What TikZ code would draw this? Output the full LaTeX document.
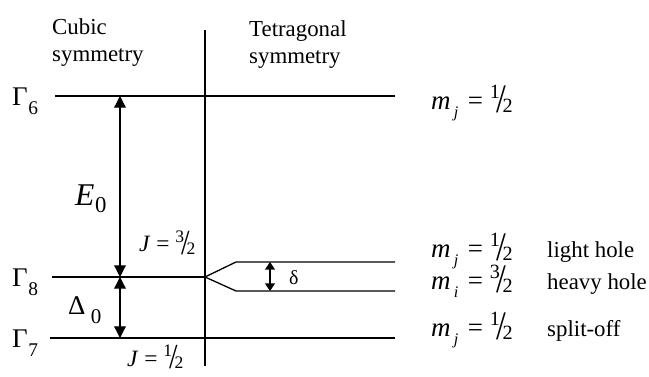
\documentclass[tikz,border=0pt]{standalone}
\usepackage{fontspec}
\setmainfont{Liberation Serif}
\usepackage{graphicx}
\usetikzlibrary{arrows.meta, positioning}

% slanted fraction and lowered index
\newcommand{\slfrac}[2]{\raisebox{0.42em}{\scalebox{0.75}{#1}}\kern-0.13em\raisebox{-0.1em}{\scalebox{1.3}[1.5]{/}}\kern-0.13em\raisebox{-0.1em}{\scalebox{0.75}{#2}}}
\newcommand{\lowsub}[3]{#1\kern0.02em\raisebox{#3}{\scalebox{0.72}{#2}}}
\newcommand{\mstate}[3]{\textit{m}\kern0.12em\raisebox{-0.28em}{\scalebox{0.6}{\textit{#1}}}\kern0.35em=\kern0.25em\slfrac{#2}{#3}}

\begin{document}
\begin{tikzpicture}[x=0.03cm, y=-0.03cm,
  lvl/.style={line width=1.1pt},
  gap/.style={{Triangle[length=10pt, width=10pt]}-{Triangle[length=10pt, width=10pt]},
              line width=1.1pt},
  small gap/.style={{Triangle[length=6.5pt, width=8.5pt]}-{Triangle[length=6.5pt, width=8.5pt]},
              line width=1.1pt},
  lbl/.style={anchor=base west, inner sep=0pt, font=\fontsize{19.5}{23}\selectfont},
  sym/.style={anchor=base west, inner sep=0pt, font=\fontsize{23}{28}\selectfont},
  state/.style={anchor=base west, inner sep=0pt, font=\fontsize{23}{28}\selectfont},
  jlbl/.style={anchor=base west, inner sep=0pt, font=\fontsize{20}{24}\selectfont},
]
  \useasboundingbox (0,0) rectangle (649,377);

  % Points
  \coordinate (vtop) at (205,30);
  \coordinate (vbot) at (205,366);
  \coordinate (g6a) at (55,96);
  \coordinate (g6b) at (395,96);
  \coordinate (g8a) at (52,277);
  \coordinate (g8m) at (205,277);
  \coordinate (lhk) at (236,262);
  \coordinate (lhb) at (395,262);
  \coordinate (hhk) at (236,291);
  \coordinate (hhb) at (395,291);
  \coordinate (g7a) at (50,338);
  \coordinate (g7b) at (395,338);
  \coordinate (e0t) at (120,96);
  \coordinate (e0b) at (120,277);
  \coordinate (d0b) at (120,338);
  \coordinate (dlt) at (270,262);
  \coordinate (dlb) at (270,291);

  % Levels
  \draw[lvl] (vtop) -- (vbot);
  \draw[lvl] (g6a) -- (g6b);
  \draw[lvl] (g8a) -- (g8m);
  \draw[lvl] (g8m) -- (lhk) -- (lhb);
  \draw[lvl] (g8m) -- (hhk) -- (hhb);
  \draw[lvl] (g7a) -- (g7b);

  % Gaps
  \draw[gap] (e0t) -- (e0b);
  \draw[gap] (e0b) -- (d0b);
  \draw[small gap] (dlt) -- (dlb);

  % Labels
  \node[lbl] (cub1) at (52,35) {Cubic};
  \node[lbl] (cub2) at (52,62) {symmetry};
  \node[lbl] (tet1) at (249,37) {Tetragonal};
  \node[lbl] (tet2) at (249,64) {symmetry};

  \node[sym] (g6) at (12,106) {\lowsub{Γ}{6}{-0.3em}};
  \node[sym] (g8) at (12,287) {\lowsub{Γ}{8}{-0.3em}};
  \node[sym] (g7) at (12,348) {\lowsub{Γ}{7}{-0.3em}};
  \node[sym, font=\fontsize{27}{32}\selectfont] (e0) at (75,206) {\lowsub{\textit{E}}{0}{-0.2em}};
  \node[sym] (d0) at (68,315) {Δ\kern0.2em\raisebox{-0.32em}{\scalebox{0.78}{0}}};

  \node[jlbl] (j32) at (139,252) {\textit{J} = \slfrac{3}{2}};
  \node[jlbl] (j12) at (127,366) {\textit{J} = \slfrac{1}{2}};
  \node[jlbl, font=\fontsize{17}{20}\selectfont] (dl) at (289,285) {δ};

  \node[state] (m6) at (431,110) {\mstate{j}{1}{2}};
  \node[state] (mlh) at (431,258) {\mstate{j}{1}{2}};
  \node[state] (mhh) at (431,290) {\mstate{i}{3}{2}};
  \node[state] (mso) at (431,337) {\mstate{j}{1}{2}};
  \node[lbl] (lh) at (547,258) {light hole};
  \node[lbl] (hh) at (547,290) {heavy hole};
  \node[lbl] (so) at (547,337) {split-off};
\end{tikzpicture}
\end{document}
